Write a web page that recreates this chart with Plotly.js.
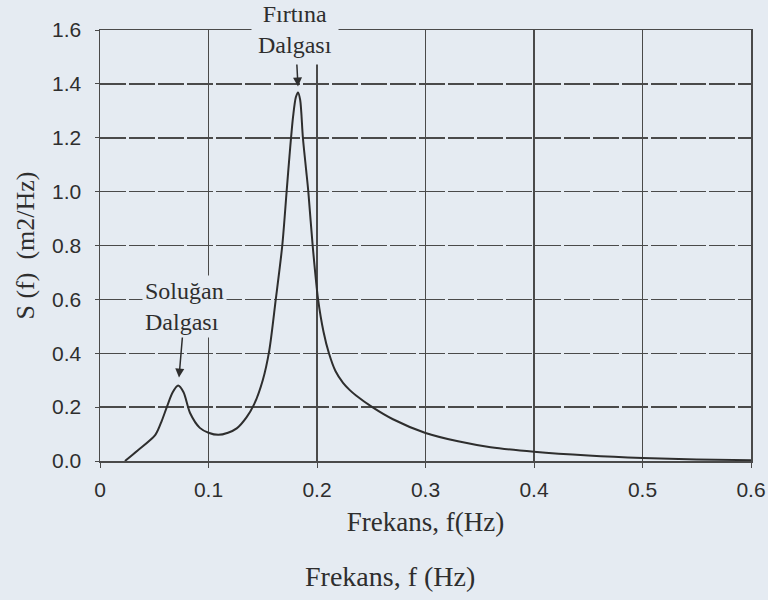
<!DOCTYPE html>
<html>
<head>
<meta charset="utf-8">
<script src="https://cdn.plot.ly/plotly-3.0.1.min.js"></script>
<style>
html,body{margin:0;padding:0;background:#e5ebf2;}
#chart{width:768px;height:600px;}
</style>
</head>
<body>
<div id="chart"></div>
<script>
// Frequency (Hz) and spectral density S(f) (m2/Hz)
const freq = [0.023, 0.035, 0.051, 0.057, 0.062, 0.067, 0.072, 0.077, 0.083, 0.092, 0.100, 0.109, 0.118, 0.126, 0.135, 0.142, 0.150, 0.156, 0.162, 0.168, 0.172, 0.175, 0.178, 0.1805, 0.1825, 0.1845, 0.187, 0.190, 0.192, 0.196, 0.201, 0.206, 0.211, 0.217, 0.224, 0.230, 0.236, 0.251, 0.270, 0.300, 0.330, 0.360, 0.400, 0.450, 0.500, 0.550, 0.600];
const spectrum = [0.000, 0.040, 0.097, 0.150, 0.205, 0.255, 0.280, 0.255, 0.178, 0.123, 0.105, 0.097, 0.105, 0.121, 0.162, 0.210, 0.300, 0.410, 0.600, 0.800, 1.000, 1.150, 1.280, 1.350, 1.368, 1.340, 1.200, 1.080, 1.000, 0.800, 0.600, 0.480, 0.400, 0.334, 0.290, 0.264, 0.243, 0.200, 0.155, 0.104, 0.073, 0.051, 0.034, 0.020, 0.011, 0.006, 0.003];

const xTickVals = [0, 0.1, 0.2, 0.3, 0.4, 0.5, 0.6];
const xTickText = ["0", "0.1", "0.2", "0.3", "0.4", "0.5", "0.6"];
const yTickVals = [0, 0.2, 0.4, 0.6, 0.8, 1.0, 1.2, 1.4, 1.6];
const yTickText = ["0.0", "0.2", "0.4", "0.6", "0.8", "1.0", "1.2", "1.4", "1.6"];

// Annotated peaks
const stormPeak = {x: 0.1825, y: 1.39, label: "Fırtına<br>Dalgası"};
const swellPeak = {x: 0.0728, y: 0.31, label: "Soluğan<br>Dalgası"};

const bg = "#e5ebf2";
const ink = "#2e2e2e";
const gridInk = "#4a4a4a";

const trace = {
  x: freq, y: spectrum, type: "scatter", mode: "lines",
  line: {color: ink, width: 2, shape: "spline", smoothing: 0.8},
  hoverinfo: "skip", showlegend: false
};

const layout = {
  width: 768, height: 600,
  paper_bgcolor: bg, plot_bgcolor: bg,
  margin: {l: 100, r: 17, t: 30, b: 139},
  font: {family: "Liberation Sans, Arial, sans-serif", color: ink},
  xaxis: {
    range: [0, 0.6], tickvals: xTickVals, ticktext: xTickText,
    showgrid: true, gridcolor: gridInk, gridwidth: 1.5,
    showline: true, linecolor: gridInk, linewidth: 1.5, mirror: true,
    zeroline: false,
    ticks: "outside", ticklen: 5, tickcolor: gridInk, ticklabelstandoff: 4,
    tickfont: {size: 21, family: "Liberation Sans, Arial, sans-serif", color: ink},
    title: {text: "Frekans, f(Hz)", standoff: 12,
            font: {size: 27, family: "Liberation Serif, Times New Roman, serif", color: ink}}
  },
  yaxis: {
    range: [0, 1.6], tickvals: yTickVals, ticktext: yTickText,
    showgrid: true, gridcolor: gridInk, gridwidth: 1.5, griddash: "26px,3px",
    showline: true, linecolor: gridInk, linewidth: 1.5, mirror: true,
    zeroline: false,
    ticks: "outside", ticklen: 4, tickcolor: gridInk, ticklabelstandoff: 9,
    tickfont: {size: 21, family: "Liberation Sans, Arial, sans-serif", color: ink},
    title: {text: "S (f)  (m2/Hz)", standoff: 10,
            font: {size: 26, family: "Liberation Serif, Times New Roman, serif", color: ink}}
  },
  annotations: [
    {x: stormPeak.x, y: stormPeak.y, xref: "x", yref: "y",
     text: stormPeak.label, showarrow: true, ax: -3, ay: -57,
     arrowhead: 2, arrowsize: 1.2, arrowwidth: 1.5, arrowcolor: ink,
     bgcolor: bg, borderpad: 6, standoff: 0,
     font: {size: 24, family: "Liberation Serif, Times New Roman, serif", color: ink}},
    {x: swellPeak.x, y: swellPeak.y, xref: "x", yref: "y",
     text: swellPeak.label, showarrow: true, ax: 6, ay: -71, align: "left",
     arrowhead: 2, arrowsize: 1.2, arrowwidth: 1.5, arrowcolor: ink,
     bgcolor: bg, borderpad: 2, standoff: 0,
     font: {size: 24, family: "Liberation Serif, Times New Roman, serif", color: ink}},
    {x: 0.445, y: -0.269, xref: "paper", yref: "paper", xanchor: "center", yanchor: "middle",
     text: "Frekans, f (Hz)", showarrow: false,
     font: {size: 28, family: "Liberation Serif, Times New Roman, serif", color: ink}}
  ]
};

Plotly.newPlot("chart", [trace], layout, {displayModeBar: false, staticPlot: true});
</script>
</body>
</html>
